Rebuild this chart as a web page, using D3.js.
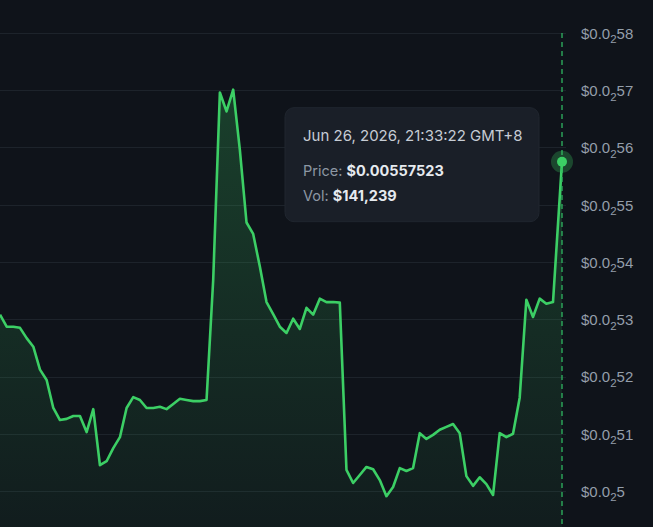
<!DOCTYPE html>
<html>
<head>
<meta charset="utf-8">
<script src="https://cdn.jsdelivr.net/npm/d3@7"></script>
<style>
  html, body { margin: 0; padding: 0; background: #0f131a; overflow: hidden; }
  svg { display: block; font-family: Inter, "Noto Sans", sans-serif; }
</style>
</head>
<body>
<div id="main"></div>
<script>
const ctx = {
    w: 653,
    h: 527,
    plotTop: 33,
    plotBottom: 491,
    plotRight: 562,
    lineColor: '#3ccf65'
};

// prices, one point per interval (last one is the live point)
const prices = [
    0.005308, 0.005287, 0.005287, 0.005285, 0.005267, 0.005252, 0.005212, 0.005194, 0.005145, 0.005124,
    0.005126, 0.005131, 0.005131, 0.005103, 0.005143, 0.005045, 0.005052, 0.005075, 0.005094, 0.005145,
    0.005164, 0.005159, 0.005145, 0.005145, 0.005147, 0.005143, 0.005152, 0.005161, 0.005159, 0.005157,
    0.005157, 0.005159, 0.005369, 0.005696, 0.005663, 0.005701, 0.005596, 0.005469, 0.005449, 0.005392,
    0.005330, 0.005309, 0.005287, 0.005276, 0.005301, 0.005283, 0.005320, 0.005308, 0.005336, 0.005330,
    0.005330, 0.005329, 0.005037, 0.005014, 0.005028, 0.005042, 0.005038, 0.005019, 0.004991, 0.005007,
    0.005040, 0.005035, 0.005040, 0.005101, 0.005091, 0.005098, 0.005107, 0.005112, 0.005117, 0.005101,
    0.005026, 0.005009, 0.005024, 0.005012, 0.004993, 0.005101, 0.005094, 0.005100, 0.005163, 0.005334,
    0.005304, 0.005336, 0.005327, 0.005330, 0.00557523
];
// the live point sits a bit past the last regular interval
const livePos = 84.35;
const priceTicks = [0.0050, 0.0051, 0.0052, 0.0053, 0.0054, 0.0055, 0.0056, 0.0057, 0.0058];

const tooltipDate = 'Jun 26, 2026, 21:33:22 GMT+8';
const tooltipVol = '$141,239';

function createViz() {
    const svg = d3.select('#main').append('svg')
        .attr('width', ctx.w)
        .attr('height', ctx.h);

    svg.append('rect')
        .attr('width', ctx.w)
        .attr('height', ctx.h)
        .attr('fill', '#0f131a');

    const data = prices.map((p, i) => ({ i: i === prices.length - 1 ? livePos : i, p: p }));

    const x = d3.scaleLinear()
        .domain([0, livePos])
        .range([0, ctx.plotRight]);

    const y = d3.scaleLinear()
        .domain([priceTicks[0], priceTicks[priceTicks.length - 1]])
        .range([ctx.plotBottom, ctx.plotTop]);

    // gradient under the line
    const defs = svg.append('defs');
    const grad = defs.append('linearGradient')
        .attr('id', 'areaGrad')
        .attr('gradientUnits', 'userSpaceOnUse')
        .attr('x1', 0).attr('x2', 0)
        .attr('y1', ctx.plotTop + 50).attr('y2', ctx.h);
    grad.append('stop').attr('offset', '0%').attr('stop-color', ctx.lineColor).attr('stop-opacity', 0.24);
    grad.append('stop').attr('offset', '100%').attr('stop-color', ctx.lineColor).attr('stop-opacity', 0.05);

    // horizontal grid
    svg.append('g')
        .selectAll('line')
        .data(priceTicks)
        .enter().append('line')
        .attr('x1', 0)
        .attr('x2', ctx.plotRight + 4)
        .attr('y1', d => Math.round(y(d)) + 0.5)
        .attr('y2', d => Math.round(y(d)) + 0.5)
        .attr('stroke', '#1d232b')
        .attr('stroke-width', 1);

    // right axis with subscript zero-count labels
    const axis = svg.append('g')
        .attr('transform', `translate(${ctx.plotRight + 19},0)`)
        .call(d3.axisRight(y).tickValues(priceTicks).tickSize(0).tickFormat(''));
    axis.select('.domain').remove();
    axis.selectAll('.tick text').each(function (d) {
        const digits = String(Math.round(d * 1e4)).replace(/0+$/, '');
        const t = d3.select(this)
            .attr('x', 0)
            .attr('dy', '0.36em')
            .attr('fill', '#949eaa')
            .style('font-size', '15px')
            .attr('text-anchor', 'start');
        t.append('tspan').text('$0.0');
        t.append('tspan').attr('dy', 4.5).style('font-size', '11.5px').text('2');
        t.append('tspan').attr('dy', -4.5).text(digits);
    });

    // area + line
    const area = d3.area()
        .x(d => x(d.i))
        .y0(ctx.h)
        .y1(d => y(d.p));
    svg.append('path')
        .datum(data)
        .attr('d', area)
        .attr('fill', 'url(#areaGrad)');

    const line = d3.line()
        .x(d => x(d.i))
        .y(d => y(d.p));
    svg.append('path')
        .datum(data)
        .attr('d', line)
        .attr('fill', 'none')
        .attr('stroke', ctx.lineColor)
        .attr('stroke-width', 2.6)
        .attr('stroke-linejoin', 'round');

    // crosshair on live point
    const last = data[data.length - 1];
    const lx = x(last.i), ly = y(last.p);
    svg.append('line')
        .attr('x1', lx).attr('x2', lx)
        .attr('y1', ctx.plotTop).attr('y2', ctx.h)
        .attr('stroke', '#2fb560')
        .attr('stroke-width', 1.3)
        .attr('stroke-dasharray', '5,4');
    svg.append('circle')
        .attr('cx', lx).attr('cy', ly).attr('r', 11)
        .attr('fill', ctx.lineColor).attr('fill-opacity', 0.28);
    svg.append('circle')
        .attr('cx', lx).attr('cy', ly).attr('r', 5)
        .attr('fill', ctx.lineColor);

    // tooltip
    const tipW = 254, tipH = 114;
    const tip = svg.append('g')
        .attr('transform', `translate(${lx - 23 - tipW},${ly - 54})`);
    tip.append('rect')
        .attr('width', tipW)
        .attr('height', tipH)
        .attr('rx', 9)
        .attr('fill', '#1a1f28')
        .attr('stroke', '#20262f');
    tip.append('text')
        .attr('x', 18).attr('y', 33)
        .attr('fill', '#c6ccd4')
        .style('font-size', '15px')
        .text(tooltipDate);
    const priceText = tip.append('text')
        .attr('x', 18).attr('y', 68)
        .style('font-size', '14.5px');
    priceText.append('tspan').attr('fill', '#8d97a3').text('Price: ');
    priceText.append('tspan').attr('fill', '#e6eaef').style('font-weight', 'bold')
        .text('$' + last.p.toFixed(8));
    const volText = tip.append('text')
        .attr('x', 18).attr('y', 93)
        .style('font-size', '14.5px');
    volText.append('tspan').attr('fill', '#8d97a3').text('Vol: ');
    volText.append('tspan').attr('fill', '#e6eaef').style('font-weight', 'bold').text(tooltipVol);
}

createViz();
</script>
</body>
</html>
